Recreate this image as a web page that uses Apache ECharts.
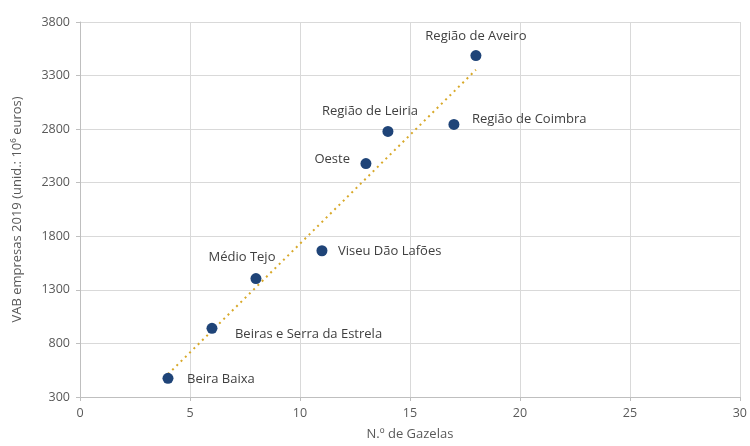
<!DOCTYPE html>
<html><head><meta charset="utf-8">
<script src="https://cdn.jsdelivr.net/npm/echarts@6/dist/echarts.min.js"></script>
<style>html,body{margin:0;padding:0;background:#fff}#c{width:750px;height:446px}</style>
</head><body><div id="c"></div>
<script>
const regions = ['Beira Baixa','Beiras e Serra da Estrela','Médio Tejo','Viseu Dão Lafões','Oeste','Região de Leiria','Região de Coimbra','Região de Aveiro'];
const gazelas = [4, 6, 8, 11, 13, 14, 17, 18];
const vab = [474, 941, 1405, 1665, 2479, 2779, 2844, 3487];
const xTicks = [0, 5, 10, 15, 20, 25, 30];
const yTicks = [300, 800, 1300, 1800, 2300, 2800, 3300, 3800];

// label placement (style only)
const labelStyle = [
  {align:'left', offset:[19,1]},
  {align:'left', offset:[23,6]},
  {align:'center', offset:[-14,-21]},
  {align:'left', offset:[16,1]},
  {align:'right', offset:[-16,-4]},
  {align:'center', offset:[-18,-20]},
  {align:'left', offset:[18,-5]},
  {align:'center', offset:[0,-19]}
];

// linear regression trendline
const n = gazelas.length;
const mx = gazelas.reduce((a,b)=>a+b,0)/n;
const my = vab.reduce((a,b)=>a+b,0)/n;
let sxy=0, sxx=0;
for (let i=0;i<n;i++){ sxy+=(gazelas[i]-mx)*(vab[i]-my); sxx+=(gazelas[i]-mx)**2; }
const slope = sxy/sxx, icpt = my - slope*mx;
const xmin = Math.min(...gazelas), xmax = Math.max(...gazelas);
const trend = [[xmin, icpt+slope*xmin],[xmax, icpt+slope*xmax]];

const font = 'Open Sans';
const chart = echarts.init(document.getElementById('c'));
chart.setOption({
  animation:false,
  textStyle:{fontFamily:font},
  grid:{left:80, right:8, top:22, bottom:45},
  xAxis:{
    type:'value', min:xTicks[0], max:xTicks[xTicks.length-1], interval:5,
    name:'N.º de Gazelas', nameLocation:'middle', nameGap:31,
    nameTextStyle:{color:'#595959', fontSize:13, fontFamily:font},
    axisLine:{show:true, lineStyle:{color:'#bfbfbf'}},
    axisTick:{show:true, length:4, lineStyle:{color:'#bfbfbf'}},
    axisLabel:{color:'#595959', fontSize:12.5, margin:10, fontFamily:font, formatter:v=>String(v)},
    splitLine:{show:true, lineStyle:{color:'#d9d9d9'}}
  },
  yAxis:{
    type:'value', min:yTicks[0], max:yTicks[yTicks.length-1], interval:500,
    name:'VAB empresas 2019 (unid.: 10⁶ euros)', nameLocation:'middle', nameGap:56,
    nameTextStyle:{color:'#595959', fontSize:13, fontFamily:font},
    axisLine:{show:true, lineStyle:{color:'#bfbfbf'}},
    axisTick:{show:true, length:4, lineStyle:{color:'#bfbfbf'}},
    axisLabel:{color:'#595959', fontSize:12.5, margin:10, fontFamily:font, formatter:v=>String(v)},
    splitLine:{show:true, lineStyle:{color:'#d9d9d9'}}
  },
  series:[
    {
      type:'line', data:trend, symbol:'none', silent:true,
      lineStyle:{color:'#d8a92a', width:2, type:[2,4]}, z:1
    },
    {
      type:'scatter', symbolSize:11, z:2,
      itemStyle:{color:'#1f4478', opacity:1},
      data: gazelas.map((g,i)=>({
        value:[g, vab[i]], name:regions[i],
        label:{show:true, position:'inside', align:labelStyle[i].align, verticalAlign:'middle',
               offset:labelStyle[i].offset, formatter:regions[i],
               color:'#404040', fontSize:13, fontFamily:font}
      }))
    }
  ]
});
</script></body></html>
